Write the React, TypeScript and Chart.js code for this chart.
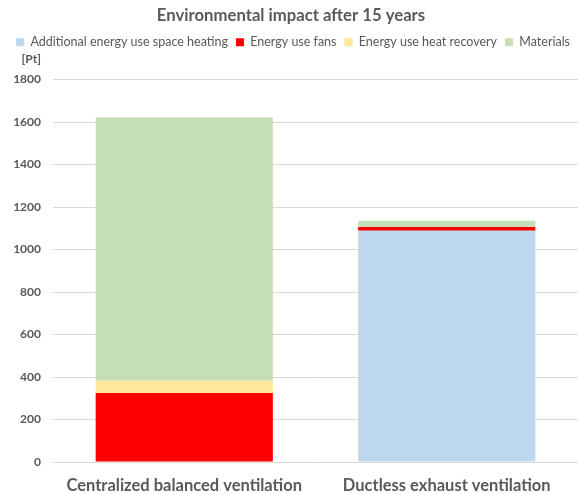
import React, { useEffect, useRef } from "react";
import { Chart, registerables } from "chart.js";

Chart.register(...registerables);

const categories = ["Centralized balanced ventilation", "Ductless exhaust ventilation"];
const seriesNames = [
  "Additional energy use space heating",
  "Energy use fans",
  "Energy use heat recovery",
  "Materials",
];
const spaceHeating = [0, 1088];
const fans = [325, 18];
const heatRecovery = [57, 0];
const materials = [1239, 30];
const seriesColors = ["#BDD7EE", "#FF0000", "#FFE699", "#C5E0B4"];
const yMax = 1800;
const yStep = 200;
const unitLabel = "[Pt]";
const titleText = "Environmental impact after 15 years";

const FONT = "Lato, 'Open Sans', sans-serif";
const GRAY = "#595959";

const unitPlugin = {
  id: "unitLabel",
  beforeInit(chart: any) {
    const legend = chart.legend;
    if (legend) {
      const orig = legend.fit;
      legend.fit = function () {
        orig.call(this);
        this.height += 21;
      };
    }
  },
  afterDraw(chart: any) {
    const ctx = chart.ctx;
    const y = chart.scales.y;
    ctx.save();
    ctx.font = `bold 12px ${FONT}`;
    ctx.fillStyle = GRAY;
    ctx.textAlign = "right";
    ctx.textBaseline = "middle";
    ctx.fillText(unitLabel, y.right - 12, chart.chartArea.top - 20);
    ctx.restore();
  },
};

export default function App() {
  const ref = useRef<HTMLCanvasElement | null>(null);
  useEffect(() => {
    document.body.style.margin = "0";
    if (!ref.current) return;
    const values = [spaceHeating, fans, heatRecovery, materials];
    const chart = new Chart(ref.current, {
      type: "bar",
      data: {
        labels: categories,
        datasets: seriesNames.map((name, i) => ({
          label: name,
          data: values[i],
          backgroundColor: seriesColors[i],
          borderWidth: 0,
          barPercentage: 0.675,
          categoryPercentage: 1,
        })),
      },
      options: {
        animation: false,
        responsive: false,
        maintainAspectRatio: false,
        layout: { padding: { top: 4, right: 1, left: 4, bottom: 0 } },
        plugins: {
          title: {
            display: true,
            text: titleText,
            color: GRAY,
            font: { family: FONT, size: 16.7, weight: "bold" },
            padding: { top: 2, bottom: 2 },
          },
          legend: {
            position: "top",
            align: "end",
            labels: {
              color: GRAY,
              font: { family: FONT, size: 12.5 },
              boxWidth: 8,
              boxHeight: 8,
              padding: 8,
            },
          },
          tooltip: { enabled: false },
        },
        scales: {
          x: {
            stacked: true,
            grid: { display: false, drawTicks: false, tickLength: 0 },
            border: { display: false },
            ticks: {
              color: GRAY,
              font: { family: FONT, size: 16.5, weight: "bold" },
              padding: 14,
              maxRotation: 0,
              minRotation: 0,
              autoSkip: false,
            },
            afterFit: (scale: any) => {
              scale.height = 32;
            },
          },
          y: {
            stacked: true,
            min: 0,
            max: yMax,
            ticks: {
              stepSize: yStep,
              color: GRAY,
              font: { family: FONT, size: 12, weight: "bold" },
              padding: 12,
              callback: (v: any) => String(v),
            },
            grid: { color: "#D9D9D9", drawTicks: false },
            border: { display: false },
            afterFit: (scale: any) => {
              scale.width = 49;
            },
          },
        },
      },
      plugins: [unitPlugin],
    });
    return () => chart.destroy();
  }, []);
  return (
    <div style={{ position: "absolute", left: 0, top: 0, width: 579, height: 494 }}>
      <canvas ref={ref} width={579} height={494} style={{ width: 579, height: 494 }} />
    </div>
  );
}
